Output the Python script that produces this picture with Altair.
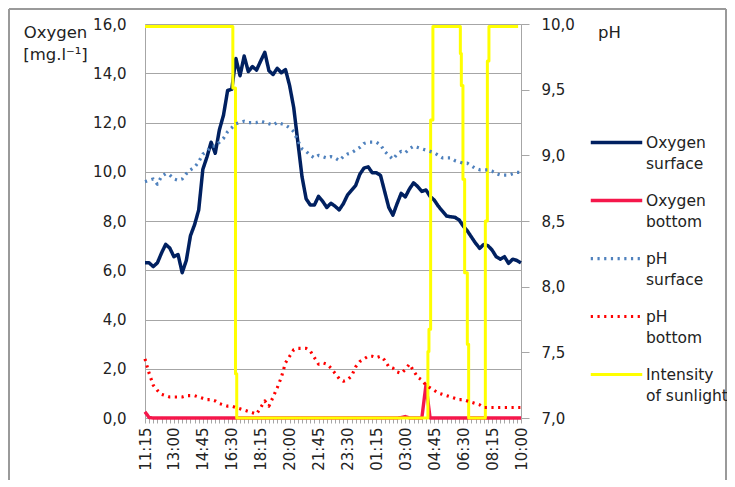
import altair as alt
import pandas as pd

# ---- data (15-minute steps, index 0 = 11:15 ... 91 = 10:00) ----
TIME_LABELS = ["11:15", "13:00", "14:45", "16:30", "18:15", "20:00", "21:45",
               "23:30", "01:15", "03:00", "04:45", "06:30", "08:15", "10:00"]

OXY_SURFACE = [
    6.30, 6.30, 6.15, 6.30, 6.70, 7.05, 6.90, 6.55, 6.64, 5.90,
    6.40, 7.40, 7.85, 8.45, 10.10, 10.60, 11.20, 10.75, 11.70, 12.30,
    13.30, 13.35, 14.60, 13.90, 14.70, 14.07, 14.27, 14.13, 14.50, 14.85,
    14.10, 13.95, 14.20, 14.02, 14.15, 13.50, 12.60, 11.20, 9.80, 8.90,
    8.65, 8.65, 9.00, 8.80, 8.55, 8.72, 8.60, 8.45, 8.70, 9.05,
    9.25, 9.45, 9.90, 10.15, 10.20, 9.96, 9.96, 9.85, 9.20, 8.55,
    8.24, 8.70, 9.12, 8.98, 9.30, 9.55, 9.40, 9.20, 9.26, 9.00,
    8.85, 8.60, 8.40, 8.20, 8.17, 8.15, 8.05, 7.80, 7.60, 7.35,
    7.10, 6.89, 7.05, 7.00, 6.82, 6.55, 6.45, 6.55, 6.28, 6.45,
    6.40, 6.30]

OXY_BOTTOM = [
    0.25, 0.02, 0.00, 0.00, 0.00, 0.00, 0.00, 0.00, 0.00, 0.00,
    0.00, 0.00, 0.00, 0.00, 0.00, 0.00, 0.00, 0.00, 0.00, 0.00,
    0.00, 0.00, 0.00, 0.00, 0.00, 0.00, 0.00, 0.00, 0.00, 0.00,
    0.00, 0.00, 0.00, 0.00, 0.00, 0.00, 0.00, 0.00, 0.00, 0.00,
    0.00, 0.00, 0.00, 0.00, 0.00, 0.00, 0.00, 0.00, 0.00, 0.00,
    0.00, 0.00, 0.00, 0.00, 0.00, 0.00, 0.00, 0.00, 0.00, 0.00,
    0.00, 0.00, 0.02, 0.06, 0.00, 0.00, 0.00, 0.00, 1.35, 0.00,
    0.00, 0.00, 0.00, 0.00, 0.00, 0.00, 0.00, 0.00, 0.00, 0.00,
    0.00, 0.00, 0.00, 0.00, 0.00, 0.00, 0.00, 0.00, 0.00, 0.00,
    0.00, 0.00]

PH_SURFACE = [
    8.80, 8.81, 8.82, 8.78, 8.84, 8.86, 8.85, 8.82, 8.81, 8.82,
    8.86, 8.89, 8.91, 8.95, 9.01, 9.03, 9.07, 9.07, 9.10, 9.13,
    9.18, 9.21, 9.24, 9.25, 9.26, 9.25, 9.25, 9.25, 9.26, 9.25,
    9.24, 9.23, 9.25, 9.24, 9.23, 9.21, 9.18, 9.11, 9.05, 9.03,
    9.00, 8.98, 9.00, 8.99, 8.98, 8.99, 8.98, 8.96, 8.99, 9.01,
    9.02, 9.04, 9.06, 9.09, 9.10, 9.10, 9.10, 9.08, 9.03, 9.00,
    8.97, 9.01, 9.03, 9.02, 9.05, 9.07, 9.06, 9.05, 9.04, 9.03,
    9.02, 9.00, 8.98, 8.98, 8.98, 8.96, 8.95, 8.94, 8.94, 8.92,
    8.90, 8.89, 8.89, 8.89, 8.88, 8.86, 8.85, 8.85, 8.85, 8.86,
    8.87, 8.87]

PH_BOTTOM = [
    7.45, 7.34, 7.25, 7.21, 7.18, 7.17, 7.16, 7.16, 7.16, 7.16,
    7.17, 7.17, 7.17, 7.16, 7.15, 7.14, 7.14, 7.13, 7.11, 7.10,
    7.09, 7.09, 7.08, 7.07, 7.06, 7.05, 7.04, 7.03, 7.08, 7.13,
    7.09, 7.16, 7.23, 7.31, 7.42, 7.47, 7.52, 7.53, 7.53, 7.53,
    7.51, 7.46, 7.41, 7.42, 7.41, 7.38, 7.34, 7.30, 7.28, 7.29,
    7.32, 7.39, 7.43, 7.45, 7.47, 7.47, 7.46, 7.47, 7.44, 7.39,
    7.38, 7.35, 7.34, 7.37, 7.41, 7.36, 7.31, 7.29, 7.25, 7.23,
    7.21, 7.19, 7.18, 7.17, 7.16, 7.15, 7.14, 7.14, 7.13, 7.12,
    7.11, 7.10, 7.08, 7.08, 7.08, 7.08, 7.08, 7.08, 7.08, 7.08,
    7.08, 7.08]

# sunlight intensity (finer time resolution, plotted on the oxygen scale)
SUN_STEP = [0, 21.26, 21.26, 21.9, 21.9, 22.2, 22.2, 68.47, 68.47, 68.72, 68.72,
            69.13, 69.13, 69.68, 69.68, 76.32, 76.32, 76.56, 76.56, 76.95, 76.95,
            77.36, 77.36, 78.01, 78.01, 78.33, 78.33, 82.37, 82.37, 82.86, 82.86,
            83.24, 83.24, 90.3]
SUN_VALUE = [15.9, 15.9, 13.4, 13.4, 1.8, 1.8, 0.0, 0.0, 2.7, 2.7, 3.6,
             3.6, 12.1, 12.1, 15.9, 15.9, 14.8, 14.8, 13.5, 13.5, 9.7,
             9.7, 5.9, 5.9, 3.0, 3.0, 0.0, 0.0, 8.0, 8.0, 14.5,
             14.5, 15.9, 15.9]

SERIES = ["Oxygen surface", "Oxygen bottom", "pH surface", "pH bottom",
          "Intensity of sunlight"]
COLORS = ["#002060", "#f5174b", "#4f81bd", "#ff0000", "#ffff00"]
DASHES = [[1, 0], [1, 0], [2.2, 4.5], [2.2, 4.5], [1, 0]]
WIDTHS = [3.5, 3, 3, 3, 2]

assert all(len(s) == 92 for s in [OXY_SURFACE, OXY_BOTTOM, PH_SURFACE, PH_BOTTOM])
assert len(SUN_STEP) == len(SUN_VALUE)


def frame(name, steps, values):
    return pd.DataFrame({"step": steps, "value": values, "series": name,
                         "ord": list(range(len(steps)))})


steps = list(range(92))
df_oxs = frame("Oxygen surface", steps, OXY_SURFACE)
df_oxb = frame("Oxygen bottom", steps, OXY_BOTTOM)
df_sun = frame("Intensity of sunlight", SUN_STEP, SUN_VALUE)
df_phs = frame("pH surface", steps, PH_SURFACE)
df_phb = frame("pH bottom", steps, PH_BOTTOM)

FONT = "DejaVu Sans"
TXT = "#222222"
GRID = "#a6a6a6"

label_arr = "[" + ",".join("'%s'" % t for t in TIME_LABELS) + "]"

x_enc = alt.X("step:Q",
              scale=alt.Scale(domain=[0, 91], nice=False, zero=False),
              axis=alt.Axis(values=steps, title=None, grid=False,
                            labelExpr="datum.value % 7 == 0 ? " + label_arr
                                      + "[datum.value / 7] : ''",
                            labelAngle=270, labelOverlap=False, labelFontSize=15,
                            labelFont=FONT, labelColor=TXT, labelPadding=4,
                            tickSize=5, tickColor=GRID, domainColor=GRID,
                            labelFlush=False))

y_left = alt.Y("value:Q",
               scale=alt.Scale(domain=[0, 16], nice=False, zero=False),
               axis=alt.Axis(orient="left", values=[0, 2, 4, 6, 8, 10, 12, 14, 16],
                             labelExpr="replace(format(datum.value, '.1f'), '.', ',')",
                             grid=True, gridColor=GRID, ticks=False,
                             domainColor=GRID, labelPadding=19,
                             labelFontSize=15, labelFont=FONT, labelColor=TXT,
                             title=["Oxygen", "[mg.l⁻¹]"], titleAngle=0,
                             titleX=-90, titleY=0, titleAlign="center",
                             titleBaseline="top", titleFontSize=16.5,
                             titleFontWeight="normal", titleFont=FONT,
                             titleColor=TXT, titleLineHeight=22.5))

y_right = alt.Y("value:Q",
                scale=alt.Scale(domain=[7, 10], nice=False, zero=False),
                axis=alt.Axis(orient="right", values=[7, 7.5, 8, 8.5, 9, 9.5, 10],
                              labelExpr="replace(format(datum.value, '.1f'), '.', ',')",
                              grid=False, tickSize=8, tickColor=GRID,
                              domainColor=GRID, labelPadding=12,
                              labelFontSize=15, labelFont=FONT, labelColor=TXT,
                              title="pH", titleAngle=0, titleX=88, titleY=0,
                              titleAlign="center", titleBaseline="top",
                              titleFontSize=16.5, titleFontWeight="normal",
                              titleFont=FONT, titleColor=TXT))

legend = alt.Legend(title=None, orient="none", legendX=444, legendY=91,
                    symbolType="stroke", symbolSize=2650, labelOffset=2,
                    labelFont=FONT, labelFontSize=15.5, labelColor=TXT,
                    labelLimit=300, rowPadding=-1, padding=0,
                    labelBaseline="middle",
                    labelExpr="datum.label == 'Intensity of sunlight' ? "
                              "['Intensity', 'of sunlight'] : "
                              "[split(datum.label, ' ')[0], split(datum.label, ' ')[1]]")

color = alt.Color("series:N", scale=alt.Scale(domain=SERIES, range=COLORS),
                  legend=legend)
dash = alt.StrokeDash("series:N", scale=alt.Scale(domain=SERIES, range=DASHES),
                      legend=legend)
width = alt.StrokeWidth("series:N", scale=alt.Scale(domain=SERIES, range=WIDTHS),
                        legend=legend)
order = alt.Order("ord:Q")


def line(df, y):
    return alt.Chart(df).mark_line(strokeJoin="round").encode(
        x=x_enc, y=y, color=color, strokeDash=dash, strokeWidth=width, order=order)


primary = alt.layer(line(df_oxs, y_left), line(df_oxb, y_left), line(df_sun, y_left))
secondary = alt.layer(line(df_phs, y_right), line(df_phb, y_right))

# outer chart-area frame
one = pd.DataFrame({"k": [0]})
frame_left = alt.Chart(one).mark_rule(color="#9a9a9a", strokeWidth=2).encode(
    x=alt.value(-136), y=alt.value(-15), y2=alt.value(470))
frame_top = alt.Chart(one).mark_rule(color="#9a9a9a", strokeWidth=2).encode(
    x=alt.value(-136), x2=alt.value(581), y=alt.value(-15))
frame_right = alt.Chart(one).mark_rule(color="#9a9a9a", strokeWidth=2).encode(
    x=alt.value(581), y=alt.value(-15), y2=alt.value(470))

chart = alt.layer(primary, secondary, frame_left, frame_top, frame_right).resolve_scale(
    y="independent"
).properties(
    width=376, height=394,
    autosize=alt.AutoSizeParams(type="none"),
    padding={"left": 137, "top": 16, "right": 206, "bottom": 62},
    background="white",
).configure_view(stroke=None).configure(
    style={"guide-label": {"lineHeight": 21.5}}
)

chart.save("out.html", embed_options={"renderer": "svg", "actions": False})
